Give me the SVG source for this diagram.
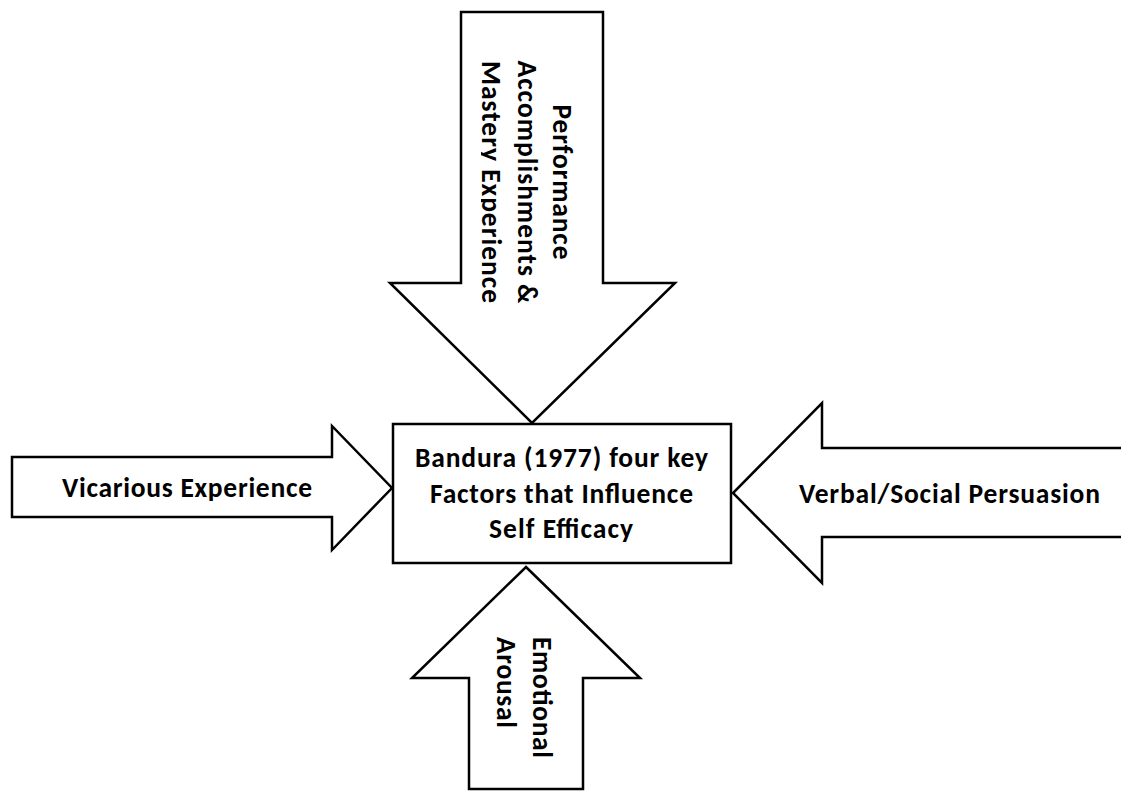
<svg xmlns="http://www.w3.org/2000/svg" width="1121" height="791" viewBox="0 0 1121 791">
  <defs>
    <style>
      .shape { fill: #ffffff; stroke: #000000; stroke-width: 2.5; stroke-linejoin: miter; }
      .lbl { font-family: Carlito, Lato, "Liberation Sans", sans-serif; font-weight: 900; font-size: 27.5px; fill: #000000; }
    </style>
    <clipPath id="topclip">
      <rect x="481" y="0" width="200" height="420"/>
    </clipPath>
  </defs>
  <rect x="0" y="0" width="1121" height="791" fill="#ffffff"/>
  <g id="connectors">
    <g id="arrow-top">
      <polygon class="shape" points="461,12 603,12 603,283 675,283 532,423 390,283 461,283"/>
      <g clip-path="url(#topclip)">
        <g transform="translate(553,182) rotate(90)">
          <text class="lbl" x="0" y="0" text-anchor="middle" textLength="155" lengthAdjust="spacing">Performance</text>
          <text class="lbl" x="0" y="35" text-anchor="middle" textLength="243" lengthAdjust="spacing">Accomplishments &amp;</text>
          <text class="lbl" x="0" y="71" text-anchor="middle" textLength="242" lengthAdjust="spacing">Mastery Experience</text>
        </g>
      </g>
    </g>
    <g id="arrow-left">
      <polygon class="shape" points="12,457 332,457 332,426 392,488 332,550 332,517 12,517"/>
      <text class="lbl" x="187" y="497" text-anchor="middle" textLength="250" lengthAdjust="spacing">Vicarious Experience</text>
    </g>
    <g id="arrow-right">
      <polygon class="shape" points="1125,448 822,448 822,403 733,493 822,583 822,537 1125,537"/>
      <text class="lbl" x="949.5" y="503" text-anchor="middle" textLength="301" lengthAdjust="spacing">Verbal/Social Persuasion</text>
    </g>
    <g id="arrow-bottom">
      <polygon class="shape" points="526,567 640,678 583,678 583,789 469,789 469,678 412,678"/>
      <g transform="translate(533,637) rotate(90)">
        <text class="lbl" x="0" y="0" textLength="121" lengthAdjust="spacing">Emotional</text>
        <text class="lbl" x="0" y="36" textLength="91" lengthAdjust="spacing">Arousal</text>
      </g>
    </g>
  </g>
  <g id="node-center">
    <rect class="shape" x="393" y="424" width="338" height="139"/>
    <text class="lbl" x="561.5" y="467" text-anchor="middle" textLength="293" lengthAdjust="spacing">Bandura (1977) four key</text>
    <text class="lbl" x="561.5" y="503" text-anchor="middle" textLength="263" lengthAdjust="spacing">Factors that Influence</text>
    <text class="lbl" x="561" y="538" text-anchor="middle" textLength="144" lengthAdjust="spacing">Self Efficacy</text>
  </g>
</svg>
